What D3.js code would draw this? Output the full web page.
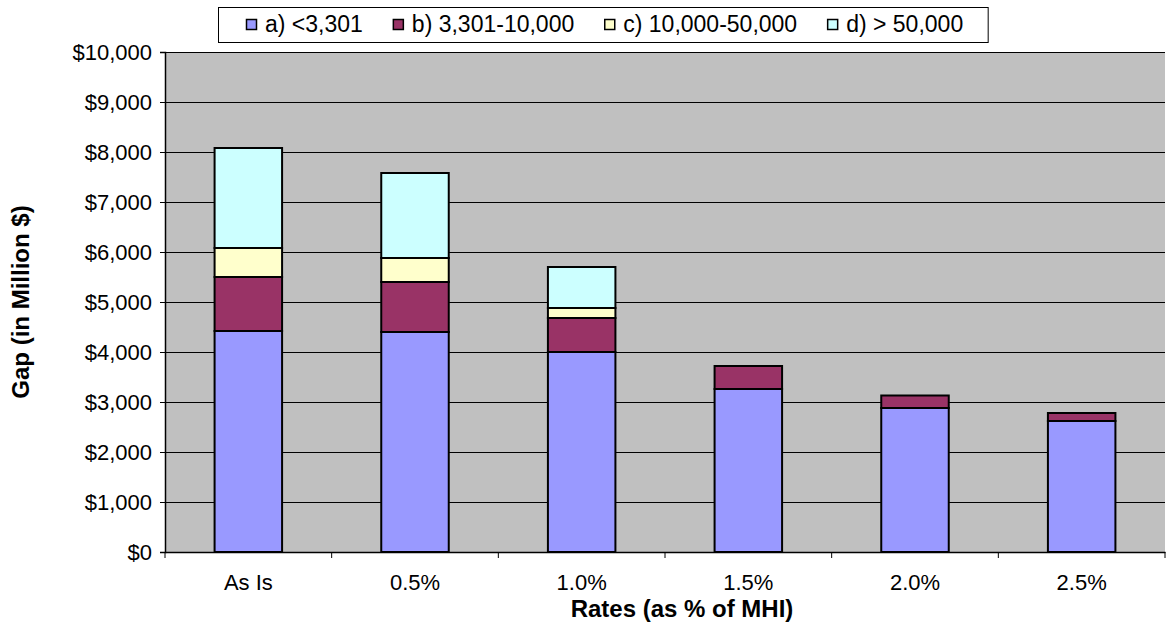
<!DOCTYPE html>
<html>
<head>
<meta charset="utf-8">
<script src="https://cdn.jsdelivr.net/npm/d3@7"></script>
<style>
  body { margin: 0; background: #fff; }
  text { font-family: "Liberation Sans", Arial, sans-serif; fill: #000; }
  .tick-label { font-size: 22px; }
  .axis-title { font-size: 24px; font-weight: bold; }
  .legend-label { font-size: 23px; }
</style>
</head>
<body>
<div id="canvas"></div>
<script>
"use strict";

/* Data */
let categories = ["As Is", "0.5%", "1.0%", "1.5%", "2.0%", "2.5%"];
let seriesNames = ["a) <3,301", "b) 3,301-10,000", "c) 10,000-50,000", "d) > 50,000"];
let seriesA = [4420, 4400, 4000, 3260, 2880, 2620];
let seriesB = [1080, 1000, 680, 460, 250, 160];
let seriesC = [580, 480, 200, 0, 0, 0];
let seriesD = [2000, 1700, 820, 0, 0, 0];
let yTicks = [0, 1000, 2000, 3000, 4000, 5000, 6000, 7000, 8000, 9000, 10000];

let colors = ["#9999FF", "#993366", "#FFFFCC", "#CCFFFF"];

/* Drawing config */
let svgWidth = 1166;
let svgHeight = 627;
let plotLeft = 165;
let plotRight = 1165;
let plotTop = 52;
let plotBottom = 552;

let svg = d3.select("#canvas")
  .append("svg")
  .attr("width", svgWidth)
  .attr("height", svgHeight);

/* Build stacked rows */
let rows = categories.map((c, i) => ({
  cat: c, a: seriesA[i], b: seriesB[i], c: seriesC[i], d: seriesD[i]
}));
let stack = d3.stack().keys(["a", "b", "c", "d"]);
let stacked = stack(rows);

/* Scales */
let xScale = d3.scaleBand()
  .domain(categories)
  .range([plotLeft, plotRight])
  .padding(0);

let yScale = d3.scaleLinear()
  .domain([0, 10000])
  .range([plotBottom, plotTop]);

let barWidth = xScale.bandwidth() * 0.405;

/* Plot background */
svg.append("rect")
  .attr("x", plotLeft)
  .attr("y", plotTop)
  .attr("width", plotRight - plotLeft)
  .attr("height", plotBottom - plotTop)
  .attr("fill", "#C0C0C0");

/* Gridlines */
svg.selectAll("line.grid")
  .data(yTicks.filter(d => d > 0))
  .enter()
  .append("line")
  .attr("class", "grid")
  .attr("x1", plotLeft)
  .attr("x2", plotRight)
  .attr("y1", d => yScale(d) + 0.5)
  .attr("y2", d => yScale(d) + 0.5)
  .attr("stroke", "#000")
  .attr("stroke-width", 1);

/* Bars */
let layers = svg.selectAll("g.layer")
  .data(stacked)
  .enter()
  .append("g")
  .attr("class", "layer")
  .attr("fill", (d, i) => colors[i]);

layers.selectAll("rect")
  .data(d => d.filter(p => p[1] - p[0] > 0))
  .enter()
  .append("rect")
  .attr("x", d => xScale(d.data.cat) + (xScale.bandwidth() - barWidth) / 2)
  .attr("y", d => yScale(d[1]))
  .attr("width", barWidth)
  .attr("height", d => yScale(d[0]) - yScale(d[1]))
  .attr("stroke", "#000")
  .attr("stroke-width", 2);

/* Y axis */
let yAxis = d3.axisLeft(yScale)
  .tickValues(yTicks)
  .tickSize(5)
  .tickPadding(8)
  .tickFormat(d => "$" + d3.format(",")(d));

let yAxisG = svg.append("g")
  .attr("transform", "translate(" + plotLeft + ",0)")
  .call(yAxis);
yAxisG.select(".domain").attr("stroke", "#000").attr("stroke-width", 1.5);
yAxisG.selectAll(".tick text")
  .attr("class", "tick-label")
  .attr("font-family", null)
  .attr("font-size", null);

/* X axis */
let xAxis = d3.axisBottom(xScale)
  .tickSize(0)
  .tickPadding(22);

let xAxisG = svg.append("g")
  .attr("transform", "translate(0," + plotBottom + ")")
  .call(xAxis);
xAxisG.select(".domain").attr("stroke", "#000").attr("stroke-width", 1.5);
xAxisG.selectAll(".tick text")
  .attr("class", "tick-label")
  .attr("font-family", null)
  .attr("font-size", null);

/* Tick marks between categories */
let boundaries = categories.map(c => xScale(c)).concat([plotRight]);
svg.selectAll("line.xtick")
  .data(boundaries)
  .enter()
  .append("line")
  .attr("class", "xtick")
  .attr("x1", d => d)
  .attr("x2", d => d)
  .attr("y1", plotBottom)
  .attr("y2", plotBottom + 6)
  .attr("stroke", "#000");

/* Axis titles */
svg.append("text")
  .attr("x", 682)
  .attr("y", 617)
  .attr("text-anchor", "middle")
  .attr("class", "axis-title")
  .text("Rates (as % of MHI)");

svg.append("text")
  .attr("transform", "translate(29," + ((plotTop + plotBottom) / 2) + ") rotate(-90)")
  .attr("text-anchor", "middle")
  .attr("class", "axis-title")
  .text("Gap (in Million $)");

/* Legend */
let legend = svg.append("g");
let legendBox = legend.append("rect")
  .attr("x", 218.5)
  .attr("y", 7.5)
  .attr("height", 35)
  .attr("fill", "#fff")
  .attr("stroke", "#000")
  .attr("stroke-width", 1);

let cursor = 246;
seriesNames.forEach((name, i) => {
  legend.append("rect")
    .attr("x", cursor + 0.5)
    .attr("y", 19.5)
    .attr("width", 10)
    .attr("height", 10)
    .attr("fill", colors[i])
    .attr("stroke", "#000")
    .attr("stroke-width", 1.5);
  let t = legend.append("text")
    .attr("x", cursor + 19)
    .attr("y", 32)
    .attr("class", "legend-label")
    .text(name);
  cursor = cursor + 19 + t.node().getComputedTextLength() + 30;
});
legendBox.attr("width", cursor - 30 + 25 - 218.5);
</script>
</body>
</html>
